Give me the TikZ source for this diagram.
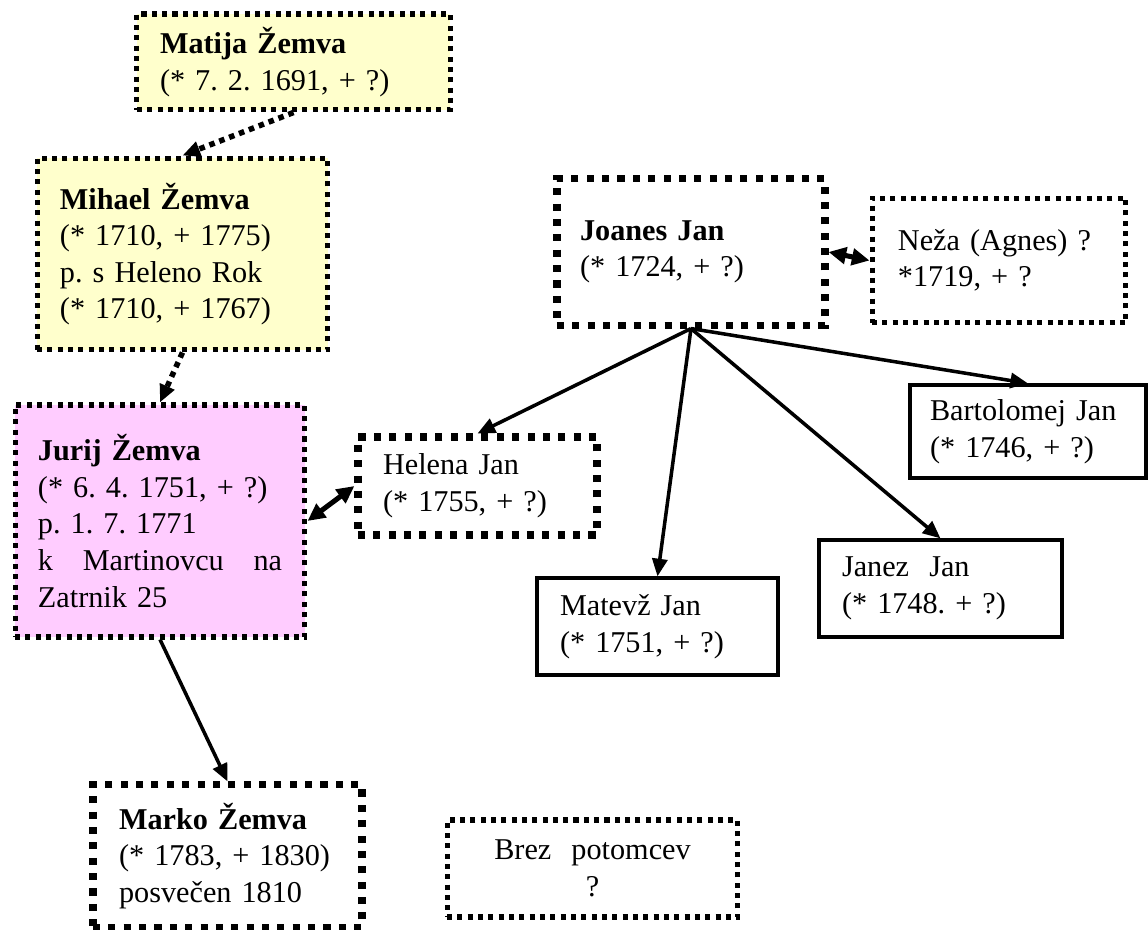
\documentclass[tikz,border=0pt]{standalone}
\usepackage{fontspec}
\setmainfont{Liberation Serif}
\usepackage{xcolor}
\usepackage{tikz}
\usetikzlibrary{arrows.meta}
\definecolor{lemon}{RGB}{255,255,204}
\definecolor{rose}{RGB}{255,204,255}
\frenchspacing

\begin{document}
\begin{tikzpicture}[x=0.397pt,y=-0.397pt,
  person/.style={rectangle,draw=black,align=left,inner sep=0pt,font=\fontsize{12pt}{14.5pt}\selectfont},
  finedots/.style={line width=2pt,dash pattern=on 2pt off 2.1pt},
  bigdots/.style={line width=2.8pt,dash pattern=on 2.8pt off 3.3pt},
  solidline/.style={line width=1.3pt},
  arrow/.style={-{Triangle[length=7pt,width=6pt]},line width=1.4pt},
  twoway/.style={{Triangle[length=7pt,width=6.5pt]}-{Triangle[length=7pt,width=6.5pt]},line width=2pt},
  dotarrow/.style={-{Triangle[length=7pt,width=6pt]},line width=2.2pt,dash pattern=on 2.2pt off 2pt}
]
\useasboundingbox (0,0) rectangle (1148,930);
\node[person,finedots,fill=lemon,minimum width=124.3pt,minimum height=38.1pt,text width=106pt] (matija) at (293.5,62) {\textbf{Matija Žemva}\\(* 7. 2. 1691, + ?)};
\node[person,finedots,fill=lemon,minimum width=115.5pt,minimum height=76.2pt,text width=97.3pt] (mihael) at (182.5,254) {\textbf{Mihael Žemva}\\(* 1710, + 1775)\\p. s Heleno Rok\\(* 1710, + 1767)};
\node[person,finedots,fill=rose,minimum width=115.1pt,minimum height=92.1pt,text width=96.9pt] (jurij) at (160,521) {\textbf{Jurij Žemva}\\(* 6. 4. 1751, + ?)\\p. 1. 7. 1771\\k\hfill Martinovcu\hfill na\\Zatrnik 25};
\node[person,bigdots,minimum width=94.9pt,minimum height=38.9pt,text width=75pt] (helena) at (477.5,486) {Helena Jan\\(* 1755, + ?)};
\node[person,bigdots,minimum width=106.4pt,minimum height=58pt,text width=88.1pt] (joanes) at (691,252) {\textbf{Joanes Jan}\\(* 1724, + ?)};
\node[person,finedots,minimum width=100.8pt,minimum height=49.6pt,text width=80.2pt] (neza) at (999,260.5) {Neža (Agnes) ?\\{}*1719, + ?};
\node[person,solidline,minimum width=93.7pt,minimum height=36.9pt,text width=77.8pt] (bartolomej) at (1028,431.5) {Bartolomej Jan\\(* 1746, + ?)};
\node[person,solidline,minimum width=96.5pt,minimum height=38.5pt,text width=78.2pt] (janez) at (940.5,588.5) {Janez\ \ Jan\\(* 1748. + ?)};
\node[person,solidline,minimum width=95.7pt,minimum height=38.5pt,text width=77.4pt] (matevz) at (657.5,626.5) {Matevž Jan\\(* 1751, + ?)};
\node[person,bigdots,minimum width=106.8pt,minimum height=56.4pt,text width=86.1pt] (marko) at (227.5,856) {\textbf{Marko Žemva}\\(* 1783, + 1830)\\posvečen 1810};
\node[person,finedots,align=center,minimum width=115.5pt,minimum height=38.5pt,text width=95pt] (brez) at (592.5,868.5) {Brez\ \ potomcev\\?};
\draw[dotarrow] (matija.south) -- (mihael.north);
\draw[dotarrow] (mihael.south) -- (jurij.north);
\draw[twoway] (jurij.east) -- (helena.west);
\draw[twoway] (joanes.east) -- (neza.west);
\draw[arrow] (joanes.south) -- (helena.north);
\draw[arrow] (joanes.south) -- (matevz.north);
\draw[arrow] (joanes.south) -- (janez.north);
\draw[arrow] (joanes.south) -- (bartolomej.north);
\draw[arrow] (jurij.south) -- (marko.north);
\end{tikzpicture}
\end{document}
